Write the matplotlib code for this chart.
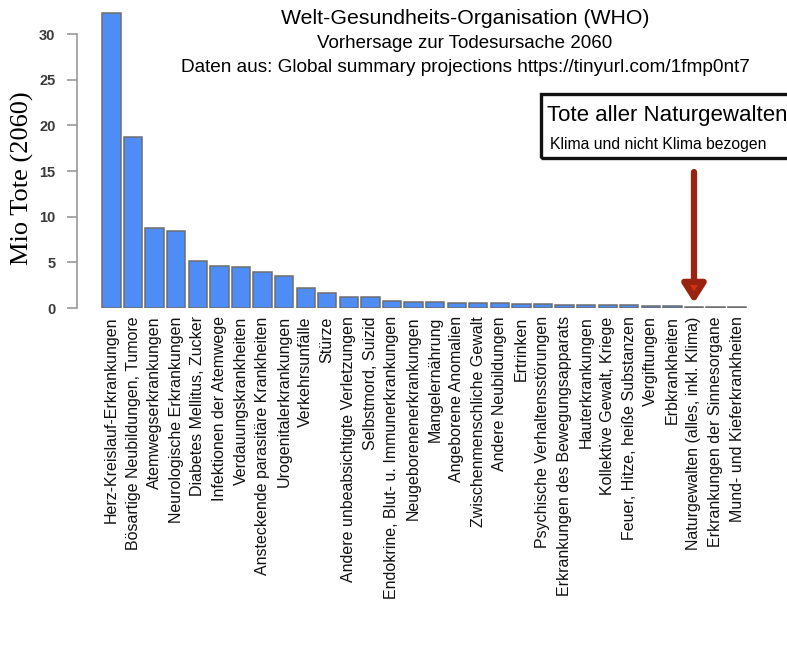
import matplotlib
matplotlib.use('Agg')
import matplotlib.pyplot as plt

categories = [
    'Herz-Kreislauf-Erkrankungen', 'Bösartige Neubildungen, Tumore',
    'Atemwegserkrankungen', 'Neurologische Erkrankungen',
    'Diabetes Mellitus, Zucker', 'Infektionen der Atemwege',
    'Verdauungskrankheiten', 'Ansteckende parasitäre Krankheiten',
    'Urogenitalerkrankungen', 'Verkehrsunfälle', 'Stürze',
    'Andere unbeabsichtigte Verletzungen', 'Selbstmord, Suizid',
    'Endokrine, Blut- u. Immunerkrankungen', 'Neugeborenenerkrankungen',
    'Mangelernährung', 'Angeborene Anomalien', 'Zwischenmenschliche Gewalt',
    'Andere Neubildungen', 'Ertrinken', 'Psychische Verhaltensstörungen',
    'Erkrankungen des Bewegungsapparats', 'Hauterkrankungen',
    'Kollektive Gewalt, Kriege', 'Feuer, Hitze, heiße Substanzen',
    'Vergiftungen', 'Erbkrankheiten', 'Naturgewalten (alles, inkl. Klima)',
    'Erkrankungen der Sinnesorgane', 'Mund- und Kieferkrankheiten',
]
deaths_mio = [32.3, 18.7, 8.8, 8.4, 5.1, 4.6, 4.5, 3.9, 3.5, 2.2,
              1.6, 1.2, 1.2, 0.8, 0.7, 0.65, 0.6, 0.55, 0.5, 0.45,
              0.4, 0.38, 0.35, 0.32, 0.3, 0.2, 0.2, 0.1, 0.06, 0.06]
yticks = [0, 5, 10, 15, 20, 25, 30]
highlight = 'Naturgewalten (alles, inkl. Klima)'

fig = plt.figure(figsize=(7.87, 6.53), dpi=100)
W, H = 787, 653
# axes placed in pixel terms: y-axis at x=77, zero line at y=308
ax = fig.add_axes([77 / W, (H - 308) / H, (760 - 77) / W, 33 * 9.13 / H])

x = list(range(len(categories)))
ax.bar(x, deaths_mio, width=0.85, color='#4d8df5', edgecolor='#6e6e6e',
       linewidth=1.1)
ax.set_xlim(-1.6, 30.06)
ax.set_ylim(0, 33)

for s in ['top', 'right', 'bottom']:
    ax.spines[s].set_visible(False)
ax.spines['left'].set_bounds(0, 30)
ax.spines['left'].set_color('#999999')
ax.spines['left'].set_linewidth(1.2)
ax.set_yticks(yticks)
ax.tick_params(axis='y', colors='#999999', labelcolor='#3a3a3a',
               labelsize=10.5, length=7.5, width=1.2, pad=8)
ax.set_xticks(x)
ax.set_xticklabels(categories, rotation=90, fontsize=11.5,
                   family='Liberation Sans', color='#111111')
ax.tick_params(axis='x', length=0, pad=6)
for lbl in ax.get_yticklabels():
    lbl.set_family('Liberation Sans')
    lbl.set_fontweight('bold')

fig.text(22 / W, 1 - 178 / H, 'Mio Tote (2060)', rotation=90,
         ha='center', va='center', family='Liberation Serif', fontsize=19)

# titles
fig.text(465 / W, 1 - 18 / H, 'Welt-Gesundheits-Organisation (WHO)',
         ha='center', va='center', fontsize=15.3, family='Liberation Sans')
fig.text(465 / W, 1 - 43 / H, 'Vorhersage zur Todesursache 2060',
         ha='center', va='center', fontsize=13.5, family='Liberation Sans')
fig.text(465 / W, 1 - 68 / H,
         'Daten aus: Global summary projections https://tinyurl.com/1fmp0nt7',
         ha='center', va='center', fontsize=13.7, family='Liberation Sans')

# annotation box
box = plt.Rectangle((541 / W, 1 - 158 / H), 260 / W, 64 / H,
                    transform=fig.transFigure, fill=False,
                    edgecolor='#111111', linewidth=2.4)
fig.add_artist(box)
fig.text(547 / W, 1 - 116 / H, 'Tote aller Naturgewalten', ha='left',
         va='center', fontsize=16, family='Liberation Sans')
fig.text(550 / W, 1 - 144 / H, 'Klima und nicht Klima bezogen', ha='left',
         va='center', fontsize=11.3, family='Liberation Sans')

# arrow to the highlighted bar
hx = categories.index(highlight)
ax.annotate('', xy=(hx, 0.25), xytext=(hx, 15.2),
            arrowprops=dict(arrowstyle='-|>,head_width=0.7,head_length=1.1',
                            fc='#cc3412', ec='#9a2210', lw=4.5),
            annotation_clip=False)

fig.savefig('out.png', dpi=100)
